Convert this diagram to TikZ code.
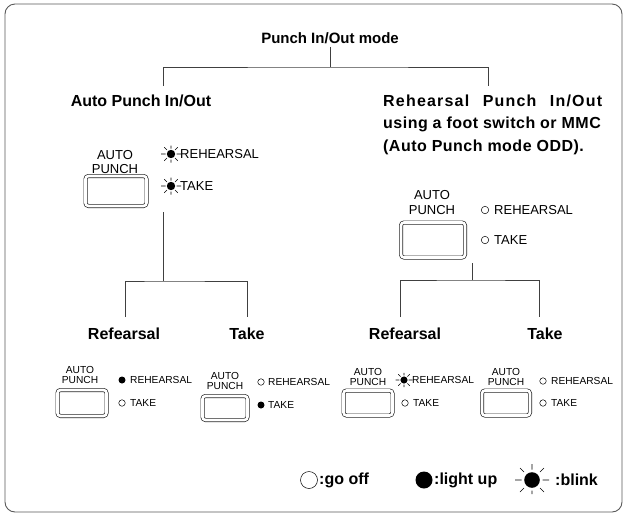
\documentclass[tikz,border=0pt]{standalone}
\usepackage{fontspec}
\setmainfont{Liberation Sans}
\begin{document}
\begin{tikzpicture}[x=1pt,y=-1pt,
  head/.style={font=\bfseries\fontsize{16}{18}\selectfont, inner sep=0pt},
  spaced/.style={font=\bfseries\fontsize{16}{18}\selectfont\addfontfeature{LetterSpace=3}, inner sep=0pt},
  wide/.style={font=\bfseries\fontsize{16}{18}\selectfont\addfontfeature{LetterSpace=7.5}, inner sep=0pt},
  lblA/.style={font=\fontsize{13}{14}\selectfont, inner sep=0pt, align=center},
  lblB/.style={font=\fontsize{10.2}{11.2}\selectfont, inner sep=0pt, align=center},
  ledA/.style={font=\fontsize{13}{14}\selectfont, inner sep=0pt, anchor=west},
  ledB/.style={font=\fontsize{10.2}{11.2}\selectfont, inner sep=0pt, anchor=west},
  btn/.style={draw=black!85, double=white, double distance=2.6pt, line width=0.7pt, rounded corners=3pt, inner sep=0pt},
  tree/.style={draw=black!75, line width=0.9pt},
  offled/.style={circle, draw=black, line width=0.5pt, inner sep=0pt, minimum size=#1},
  onled/.style={circle, fill=black, inner sep=0pt, minimum size=#1},
  blink/.pic={
    \fill (0,0) circle (4.2);
    \draw[line width=0.55pt] (5.5,0) -- (10,0) (-5.5,0) -- (-10,0)
      (0,5.5) -- (0,8.5) (0,-5.5) -- (0,-8.5)
      (4,4) -- (6.8,6.8) (-4,4) -- (-6.8,6.8) (4,-4) -- (6.8,-6.8) (-4,-4) -- (-6.8,-6.8);
  },
  bigblink/.pic={
    \fill (0,0) circle (7.8);
    \draw[line width=0.6pt] (10.5,0) -- (17,0) (-10.5,0) -- (-17,0)
      (0,10.5) -- (0,14) (0,-10.5) -- (0,-16)
      (8,8) -- (12,12) (-8,8) -- (-12,12) (8,-8) -- (12,-12) (-8,-8) -- (-12,-12);
  }
]
\useasboundingbox (0,0) rectangle (624,515);
\draw[draw=black!65, line width=0.9pt, rounded corners=10pt] (5,4) rectangle (622,512);

% headings
\node[head, font=\bfseries\fontsize{15}{17}\selectfont] (title) at (330,38) {Punch In/Out mode};
\node[head] (auto) at (141,101) {Auto Punch In/Out};
\node[wide, anchor=west] (reh1) at (383,101) {\makebox[219pt][s]{Rehearsal Punch In/Out}};
\node[spaced, anchor=west] (reh2) at (383,124) {using a foot switch or MMC};
\node[spaced, anchor=west] (reh3) at (383,147) {(Auto Punch mode ODD).};

% top tree
\coordinate (t0) at (330,67);
\coordinate (tl) at (163,86);
\coordinate (tr) at (488,86);
\draw[tree] (title.south) ++(0,3) -- (t0);
\draw[tree] (tl) |- (t0) -| (tr);

% top-left panel
\node[lblA] (pa1) at (115,162) {AUTO\\[0pt]PUNCH};
\node[btn, minimum width=61pt, minimum height=30pt] (ba1) at (116,191) {};
\pic at (171,154) {blink};
\node[ledA] (ra1) at (180,154) {REHEARSAL};
\pic at (171,186) {blink};
\node[ledA] (ka1) at (180,186) {TAKE};

% left subtree
\coordinate (l0) at (163,212);
\coordinate (l1) at (163,281);
\coordinate (ll) at (125,317);
\coordinate (lr) at (247,317);
\draw[tree] (l0) -- (l1);
\draw[tree] (ll) |- (l1) -| (lr);

% top-right panel
\node[lblA] (pa2) at (432,203) {AUTO\\[1pt]PUNCH};
\node[btn, minimum width=64pt, minimum height=35pt] (ba2) at (433,240) {};
\node[offled=7.5pt] (oa1) at (485,210) {};
\node[ledA] (ra2) at (494,210) {REHEARSAL};
\node[offled=7.5pt] (oa2) at (485,240) {};
\node[ledA] (ka2) at (494,240) {TAKE};

% right subtree
\coordinate (r0) at (472,263);
\coordinate (r1) at (472,280);
\coordinate (rl) at (400,317);
\coordinate (rr) at (539,317);
\draw[tree] (r0) -- (r1);
\draw[tree] (rl) |- (r1) -| (rr);

% sub headings
\node[head] (s1) at (124,334) {Refearsal};
\node[head] (s2) at (247,334) {Take};
\node[head] (s3) at (405,334) {Refearsal};
\node[head] (s4) at (545,334) {Take};

% bottom panel 1
\node[lblB] (p1) at (80,375) {AUTO\\[-1pt]PUNCH};
\node[btn, minimum width=49pt, minimum height=26pt] (b1) at (82,403) {};
\node[onled=7pt] (p1r) at (122,380) {};
\node[ledB] (p1rt) at (130,380) {REHEARSAL};
\node[offled=6.5pt] (p1k) at (122,403) {};
\node[ledB] (p1kt) at (130,403) {TAKE};

% bottom panel 2
\node[lblB] (p2) at (225,381) {AUTO\\[-1pt]PUNCH};
\node[btn, minimum width=45pt, minimum height=24pt] (b2) at (225,408) {};
\node[offled=6.5pt] (p2r) at (261,382) {};
\node[ledB] (p2rt) at (268,382) {REHEARSAL};
\node[onled=7pt] (p2k) at (261,405) {};
\node[ledB] (p2kt) at (268,405) {TAKE};

% bottom panel 3
\node[lblB] (p3) at (368,377) {AUTO\\[-1pt]PUNCH};
\node[btn, minimum width=49pt, minimum height=25pt] (b3) at (368,403) {};
\pic[scale=0.85] at (404,380) {blink};
\node[ledB] (p3rt) at (412,380) {REHEARSAL};
\node[offled=6.5pt] (p3k) at (405,403) {};
\node[ledB] (p3kt) at (413,403) {TAKE};

% bottom panel 4
\node[lblB] (p4) at (506,377) {AUTO\\[-1pt]PUNCH};
\node[btn, minimum width=48pt, minimum height=25pt] (b4) at (506,403) {};
\node[offled=6.5pt] (p4r) at (543,381) {};
\node[ledB] (p4rt) at (551,381) {REHEARSAL};
\node[offled=6.5pt] (p4k) at (543,403) {};
\node[ledB] (p4kt) at (551,403) {TAKE};

% legend
\node[offled=17pt] (g1) at (309,480) {};
\node[head, anchor=west] (g1t) at (319,480) {:go off};
\node[onled=17pt] (g2) at (424,480) {};
\node[head, anchor=west] (g2t) at (434,480) {:light up};
\pic at (532,480) {bigblink};
\node[head, anchor=west] (g3t) at (555,480) {:blink};
\end{tikzpicture}
\end{document}
